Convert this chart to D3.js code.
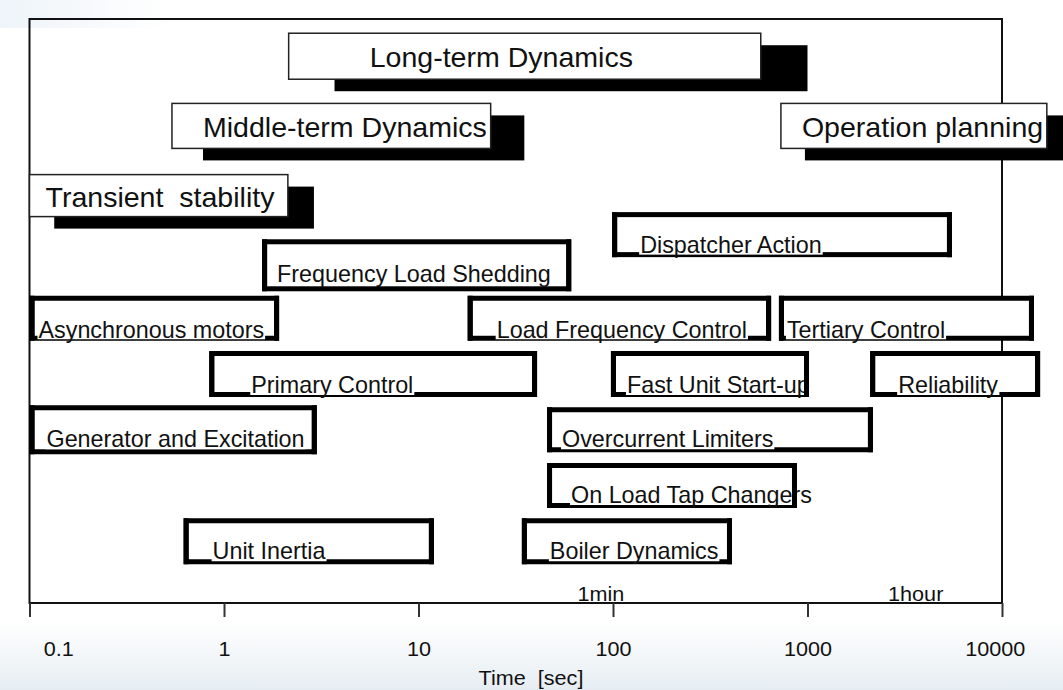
<!DOCTYPE html>
<html>
<head>
<meta charset="utf-8">
<script src="https://cdn.jsdelivr.net/npm/d3@7"></script>
<style>
  body { margin: 0; background: #fff; }
  svg { display: block; font-family: "Liberation Sans", Arial, sans-serif; }
</style>
</head>
<body>
<div class="canva"></div>
<script>
// time scales (shadowed blocks)
var phaseNames = ["Long-term Dynamics", "Middle-term Dynamics", "Transient  stability", "Operation planning"];
var phaseStart = [2.15, 0.54, 0.1, 730];
var phaseEnd = [575, 23.5, 2.13, 17000];
var shadowStart = [3.7, 0.78, 0.134, 970];
var shadowEnd = [1000, 35, 2.9, 30000];
var phaseLevel = [9.7, 8.45, 7.2, 8.45];

// phenomena / controls (outlined blocks), seconds
var boxNames = ["Dispatcher Action", "Frequency Load Shedding", "Asynchronous motors",
  "Load Frequency Control", "Tertiary Control", "Primary Control", "Fast Unit Start-up",
  "Reliability", "Generator and Excitation", "Overcurrent Limiters",
  "On Load Tap Changers", "Unit Inertia", "Boiler Dynamics"];
var boxStart = [99, 1.57, 0.1, 17.9, 713, 0.84, 97.6, 2100, 0.1, 45.8, 45.8, 0.62, 34];
var boxEnd = [5530, 61, 1.92, 650, 14600, 40.7, 1018, 15700, 3.0, 2170, 883, 12, 409];
var boxLevel = [6.5, 5.95, 5, 5, 5, 4, 4, 4, 3, 3, 2, 1, 1];

var tickValues = [0.1, 1, 10, 100, 1000, 10000];
var tickLabels = ["0.1", "1", "10", "100", "1000", "10000"];
var markNames = ["1min", "1hour"];
var markTimes = [60, 3600];

// label placement inside the blocks (px): left inset, baseline from bottom, block height
var labelLayout = {
  "Dispatcher Action": [28, -4.5, 45],
  "Frequency Load Shedding": [15, -9, 52],
  "Asynchronous motors": [9, -3, 45],
  "Load Frequency Control": [29, -3, 45],
  "Tertiary Control": [8, -3, 45],
  "Primary Control": [42, -4, 46],
  "Fast Unit Start-up": [16, -4, 46],
  "Reliability": [28, -4, 46],
  "Generator and Excitation": [17, -7, 49],
  "Overcurrent Limiters": [15, -5, 45],
  "On Load Tap Changers": [24, -5, 45],
  "Unit Inertia": [29, -5, 46],
  "Boiler Dynamics": [28, -5, 46]
};
var phaseInset = [81, 31, 16, 21];

const W = 1063, H = 690;
const plot = {left: 29.5, right: 1002, top: 19, bottom: 603};
const sw = 5;           // outline thickness
const sx = 1.015;       // glyphs are a touch wide in the original

const svg = d3.select(".canva").append("svg")
    .attr("width", W)
    .attr("height", H);

// faint slide background
var defs = svg.append("defs");
var grad = defs.append("linearGradient").attr("id", "bottomFade")
    .attr("x1", 0).attr("y1", 0).attr("x2", 0).attr("y2", 1);
grad.append("stop").attr("offset", "0%").attr("stop-color", "#ffffff");
grad.append("stop").attr("offset", "100%").attr("stop-color", "#e6edf2");
var grad2 = defs.append("linearGradient").attr("id", "topFade")
    .attr("x1", 0).attr("y1", 0).attr("x2", 1).attr("y2", 0);
grad2.append("stop").attr("offset", "0%").attr("stop-color", "#eef4f9");
grad2.append("stop").attr("offset", "100%").attr("stop-color", "#ffffff");

svg.append("rect").attr("width", W).attr("height", H).attr("fill", "#fff");
svg.append("rect").attr("x", 0).attr("y", 622).attr("width", W).attr("height", H - 622)
    .attr("fill", "url(#bottomFade)");
svg.append("rect").attr("x", 0).attr("y", 0).attr("width", 170).attr("height", 28)
    .attr("fill", "url(#topFade)");

var x = d3.scaleLog()
    .domain([0.1, 10000])
    .range([plot.left, plot.right]);

var y = d3.scaleLinear()
    .domain([0, 10])
    .range([597, 39.5]);

// frame
svg.append("rect")
    .attr("x", plot.left).attr("y", plot.top)
    .attr("width", plot.right - plot.left)
    .attr("height", plot.bottom - plot.top)
    .attr("fill", "none")
    .attr("stroke", "#111")
    .attr("stroke-width", 2);

// x axis
var xAxis = d3.axisBottom(x)
    .tickValues(tickValues)
    .tickFormat((d, i) => tickLabels[i])
    .tickSize(14)
    .tickSizeOuter(0);

var gx = svg.append("g")
    .attr("transform", `translate(0, ${plot.bottom})`)
    .call(xAxis);
gx.select(".domain").remove();
gx.selectAll(".tick line").attr("stroke", "#333").attr("stroke-width", 2);
gx.selectAll(".tick text")
    .attr("y", 0).attr("dy", 0)
    .attr("transform", `translate(0, 53) scale(1.03,1)`)
    .style("font-size", "21px")
    .style("font-family", "Liberation Sans, Arial, sans-serif")
    .attr("fill", "#111")
    .attr("dx", (d, i) => i == 0 ? 28 : (i == tickValues.length - 1 ? -7 : 0));

svg.append("text")
    .attr("transform", `translate(531, 685) scale(1.03,1)`)
    .attr("text-anchor", "middle")
    .style("font-size", "21px")
    .style("white-space", "pre")
    .attr("fill", "#111")
    .text("Time  [sec]");

// 1min / 1hour marks above axis
svg.selectAll(".mark")
    .data(markNames)
    .enter()
    .append("text")
    .attr("class", "mark")
    .attr("transform", (d, i) => `translate(${x(markTimes[i]) + (i == 0 ? 31 : 0)}, 601) scale(1.03,1)`)
    .attr("text-anchor", "middle")
    .style("font-size", "21px")
    .attr("fill", "#111")
    .text(d => d);

// shadowed phase blocks
var phaseH = [46, 45, 42, 45];
var phases = svg.selectAll(".phase")
    .data(phaseNames)
    .enter()
    .append("g")
    .attr("class", "phase");

phases.append("rect")
    .attr("x", (d, i) => x(shadowStart[i]))
    .attr("y", (d, i) => y(phaseLevel[i]) - phaseH[i] / 2 + 12)
    .attr("width", (d, i) => x(shadowEnd[i]) - x(shadowStart[i]))
    .attr("height", (d, i) => phaseH[i])
    .attr("fill", "#000");

phases.append("rect")
    .attr("x", (d, i) => x(phaseStart[i]))
    .attr("y", (d, i) => y(phaseLevel[i]) - phaseH[i] / 2)
    .attr("width", (d, i) => x(phaseEnd[i]) - x(phaseStart[i]))
    .attr("height", (d, i) => phaseH[i])
    .attr("fill", "#fff")
    .attr("stroke", "#222")
    .attr("stroke-width", 1.5);

phases.append("text")
    .attr("transform", (d, i) => `translate(${x(phaseStart[i]) + phaseInset[i]}, ${y(phaseLevel[i]) + 11}) scale(1.02,1)`)
    .style("font-size", "28px")
    .style("white-space", "pre")
    .attr("fill", "#111")
    .text(d => d);

// outlined blocks
var boxes = svg.selectAll(".box")
    .data(boxNames)
    .enter()
    .append("g")
    .attr("class", "box");

function boxTop(d, i) { return y(boxLevel[i]) - labelLayout[d][2] / 2; }
function boxBottom(d, i) { return y(boxLevel[i]) + labelLayout[d][2] / 2; }

boxes.append("rect")
    .attr("x", (d, i) => x(boxStart[i]) + sw / 2)
    .attr("y", (d, i) => boxTop(d, i) + sw / 2)
    .attr("width", (d, i) => x(boxEnd[i]) - x(boxStart[i]) - sw)
    .attr("height", d => labelLayout[d][2] - sw)
    .attr("fill", "#fff")
    .attr("stroke", "#000")
    .attr("stroke-width", sw);

// white text background eats the upper part of the bottom border
var bgs = boxes.append("rect").attr("fill", "#fff");

var labels = boxes.append("text")
    .attr("transform", (d, i) => `translate(${x(boxStart[i]) + labelLayout[d][0]}, ${boxBottom(d, i) + labelLayout[d][1]}) scale(${sx},1)`)
    .style("font-size", "23px")
    .attr("fill", "#111")
    .text(d => d);

labels.each(function(d, i) {
    var bb = this.getBBox();
    var x0 = x(boxStart[i]) + labelLayout[d][0];
    var base = boxBottom(d, i) + labelLayout[d][1];
    var yb = Math.min(base + 2, boxBottom(d, i) - 1.5);
    d3.select(bgs.nodes()[i])
        .attr("x", x0 - 1)
        .attr("y", base - 18)
        .attr("width", bb.width * sx + 2)
        .attr("height", Math.max(0, yb - (base - 18)));
});

// side borders sit on top of the text
boxes.append("path")
    .attr("d", (d, i) => {
        var l = x(boxStart[i]) + sw / 2, r = x(boxEnd[i]) - sw / 2;
        var t = boxTop(d, i), b = boxBottom(d, i);
        return `M${l},${t}V${b}M${r},${t}V${b}`;
    })
    .attr("stroke", "#000")
    .attr("stroke-width", sw);
</script>
</body>
</html>
